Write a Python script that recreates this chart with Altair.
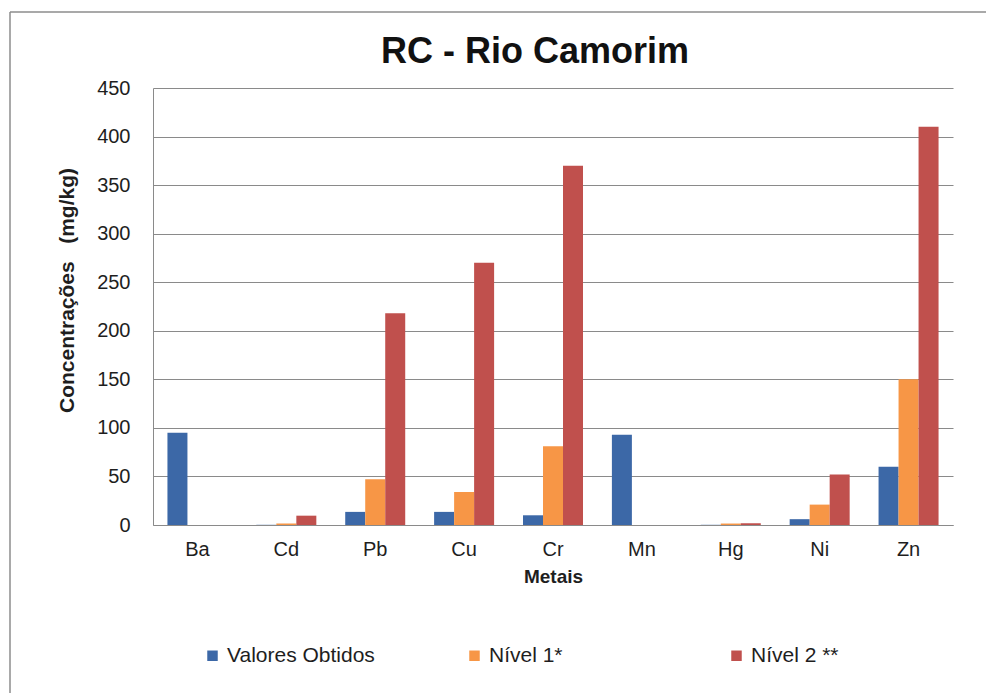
import altair as alt
import pandas as pd

metais = ["Ba", "Cd", "Pb", "Cu", "Cr", "Mn", "Hg", "Ni", "Zn"]
valores_obtidos = [95, 0.2, 13.5, 13.5, 10, 93, 0.2, 6, 60]
nivel_1 = [0, 1.5, 47, 34, 81, 0, 1.5, 21, 150]
nivel_2 = [0, 9.6, 218, 270, 370, 0, 1.8, 52, 410]
series = ["Valores Obtidos", "Nível 1*", "Nível 2 **"]
colors = ["#3C68A7", "#F79646", "#C0504D"]
y_ticks = [0, 50, 100, 150, 200, 250, 300, 350, 400, 450]
titulo = "RC - Rio Camorim"

rows = []
for name, vals in zip(series, [valores_obtidos, nivel_1, nivel_2]):
    for m, v in zip(metais, vals):
        rows.append({"Metal": m, "Serie": name, "Valor": v})
df = pd.DataFrame(rows)
one = pd.DataFrame({"t": [titulo]})

FONT = "Liberation Sans"
TXT = "#1e1e1e"

bars = alt.Chart(df).mark_bar().encode(
    x=alt.X("Metal:N", sort=metais,
            scale=alt.Scale(paddingInner=0.325, paddingOuter=0.1625),
            axis=alt.Axis(title="Metais", labelAngle=0, labelFontSize=20,
                          labelFont=FONT, labelColor=TXT, labelPadding=14,
                          ticks=False, tickSize=0, domainColor="#8a8a8a",
                          titleFont=FONT, titleFontSize=19, titleColor=TXT,
                          titleFontWeight="bold", titleY=51, titleBaseline="middle")),
    xOffset=alt.XOffset("Serie:N", sort=series,
                        scale=alt.Scale(paddingInner=0, paddingOuter=0)),
    y=alt.Y("Valor:Q", scale=alt.Scale(domain=[0, 450], nice=False),
            axis=alt.Axis(title="Concentrações\u00a0\u00a0\u00a0(mg/kg)", values=y_ticks,
                          labelFontSize=20, labelFont=FONT, labelColor=TXT,
                          labelPadding=23, ticks=False, tickSize=0,
                          domainColor="#8a8a8a", gridColor="#8a8a8a", gridWidth=1.2,
                          titleFont=FONT, titleFontSize=21, titleColor=TXT,
                          titleFontWeight="bold", titleX=-76, titleY=202,
                          titleBaseline="bottom")),
    color=alt.Color("Serie:N", sort=series,
                    scale=alt.Scale(domain=series, range=colors),
                    legend=alt.Legend(title=None, orient="none", legendX=49, legendY=557,
                                      direction="horizontal", columns=3, gridAlign="all",
                                      columnPadding=89, symbolType="square",
                                      symbolSize=110, symbolStrokeWidth=0,
                                      labelFont=FONT, labelFontSize=21, labelColor=TXT,
                                      labelOffset=4)),
)

title_mark = alt.Chart(one).mark_text(
    font=FONT, fontSize=36, fontWeight="bold", color="#111111",
    align="center", baseline="alphabetic").encode(
    text="t:N", x=alt.value(382), y=alt.value(-25))

frame_left = alt.Chart(one).mark_rule(color="#8c8c8c", strokeWidth=1.5).encode(
    x=alt.value(-143), y=alt.value(-76), y2=alt.value(620))
frame_top = alt.Chart(one).mark_rule(color="#8c8c8c", strokeWidth=1.5).encode(
    x=alt.value(-143), x2=alt.value(840), y=alt.value(-76))

chart = alt.layer(bars, title_mark, frame_left, frame_top).properties(
    width=800, height=437,
    autosize=alt.AutoSizeParams(type="none"),
    padding={"left": 153, "top": 88, "right": 33, "bottom": 168},
    background="white",
).configure_view(stroke=None)

chart.save("out.html", embed_options={"renderer": "svg", "actions": False})
